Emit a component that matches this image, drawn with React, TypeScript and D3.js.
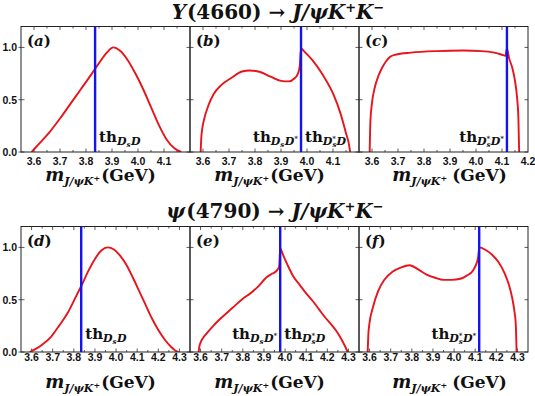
import React from "react";
import * as d3 from "d3";

// ---------- data ----------
const yTickValues = [0, 0.5, 1.0];
const topTickValues = [3.6, 3.7, 3.8, 3.9, 4.0, 4.1, 4.2];
const bottomTickValues = [3.6, 3.7, 3.8, 3.9, 4.0, 4.1, 4.2, 4.3];

const thDsD = 3.835;
const thDsDst = 3.977;
const thDsstDst = 4.119;

// (a) Y(4660), th DsD
const aMass = [3.591, 3.62, 3.66, 3.70, 3.74, 3.78, 3.82, 3.85, 3.88, 3.905, 3.93, 3.96, 3.99, 4.02, 4.05, 4.08, 4.11, 4.14, 4.166];
const aRate = [0, 0.08, 0.19, 0.32, 0.46, 0.60, 0.74, 0.85, 0.95, 1.0, 0.97, 0.88, 0.75, 0.60, 0.43, 0.26, 0.12, 0.035, 0];

// (b) Y(4660), th DsD*
const bMass = [3.591, 3.593, 3.597, 3.605, 3.62, 3.64, 3.67, 3.71, 3.75, 3.78, 3.82, 3.86, 3.90, 3.93, 3.95, 3.965, 3.972, 3.977, 3.99, 4.02, 4.06, 4.10, 4.13, 4.15, 4.16, 4.166];
const bRate = [0, 0.12, 0.22, 0.32, 0.44, 0.55, 0.64, 0.71, 0.77, 0.78, 0.765, 0.72, 0.68, 0.675, 0.70, 0.75, 0.82, 0.99, 0.96, 0.88, 0.74, 0.56, 0.36, 0.18, 0.09, 0];

// (c) Y(4660), th Ds*D*
const cMass = [3.591, 3.594, 3.60, 3.61, 3.625, 3.64, 3.655, 3.67, 3.69, 3.75, 3.85, 3.95, 4.02, 4.07, 4.10, 4.113, 4.119, 4.127, 4.14, 4.15, 4.158, 4.163, 4.166];
const cRate = [0, 0.30, 0.47, 0.61, 0.73, 0.81, 0.87, 0.91, 0.93, 0.95, 0.965, 0.97, 0.965, 0.95, 0.93, 0.92, 0.99, 0.90, 0.80, 0.68, 0.52, 0.33, 0];

// (d) psi(4790), th DsD
const dMass = [3.591, 3.62, 3.65, 3.69, 3.73, 3.77, 3.81, 3.84, 3.87, 3.90, 3.93, 3.96, 3.99, 4.02, 4.05, 4.08, 4.11, 4.14, 4.17, 4.20, 4.23, 4.26, 4.28, 4.296];
const dRate = [0, 0.03, 0.07, 0.14, 0.25, 0.37, 0.53, 0.65, 0.78, 0.89, 0.97, 1.0, 0.98, 0.92, 0.83, 0.71, 0.58, 0.45, 0.32, 0.21, 0.12, 0.05, 0.015, 0];

// (e) psi(4790), th DsD*
const eMass = [3.591, 3.594, 3.60, 3.61, 3.63, 3.66, 3.70, 3.75, 3.80, 3.835, 3.87, 3.91, 3.94, 3.962, 3.972, 3.977, 3.99, 4.01, 4.04, 4.07, 4.10, 4.13, 4.16, 4.19, 4.22, 4.25, 4.27, 4.285, 4.296];
const eRate = [0, 0.05, 0.09, 0.13, 0.18, 0.25, 0.33, 0.42, 0.51, 0.56, 0.62, 0.71, 0.75, 0.78, 0.82, 0.99, 0.93, 0.84, 0.72, 0.64, 0.56, 0.49, 0.41, 0.33, 0.26, 0.18, 0.11, 0.05, 0];

// (f) psi(4790), th Ds*D*
const fMass = [3.591, 3.594, 3.60, 3.615, 3.64, 3.67, 3.71, 3.75, 3.79, 3.83, 3.87, 3.91, 3.95, 3.99, 4.03, 4.06, 4.09, 4.105, 4.114, 4.119, 4.15, 4.18, 4.21, 4.24, 4.26, 4.275, 4.285, 4.292, 4.296];
const fRate = [0, 0.16, 0.28, 0.42, 0.58, 0.69, 0.77, 0.81, 0.83, 0.79, 0.74, 0.71, 0.69, 0.69, 0.70, 0.73, 0.78, 0.84, 0.91, 1.0, 0.975, 0.93, 0.86, 0.75, 0.64, 0.52, 0.40, 0.27, 0];

// ---------- layout ----------
const W = 535;
const H = 396;
const PANEL_LEFT = 21;
const PANEL_W = 169;
const ROW_TOP = [26.5, 226.5];
const PANEL_H = 125.5;
const X_DOMAINS = [[3.55, 4.2], [3.55, 4.35]];
const SERIF = "'DejaVu Serif', serif";
const SANS = "'Liberation Sans', Arial, sans-serif";
const RED = "#e8141c";
const BLUE = "#1414f0";

type Seg = { t: string; s: number; i?: boolean; b?: number; dx?: number };

function MathText({ x, y, anchor, segs }: { x: number; y: number; anchor?: string; segs: Seg[] }) {
  let prev = 0;
  return (
    <text x={x} y={y} textAnchor={anchor || "start"} fontFamily={SERIF} fontWeight="bold" fill="#111" style={{ whiteSpace: "pre" }}>
      {segs.map((g, k) => {
        const b = g.b || 0;
        const dy = b - prev;
        prev = b;
        return (
          <tspan key={k} fontSize={g.s} fontStyle={g.i ? "italic" : "normal"} dy={dy} dx={g.dx || 0}>
            {g.t}
          </tspan>
        );
      })}
    </text>
  );
}

function thSegs(firstStar: boolean, secondStar: boolean): Seg[] {
  const s: Seg[] = [{ t: "th", s: 15 }, { t: "D", s: 11, i: true, b: 3 }, { t: "s", s: 7, i: true, b: 5 }];
  if (firstStar) s.push({ t: "*", s: 7, b: -1, dx: -4 });
  s.push({ t: "D", s: 11, i: true, b: 3, dx: 0.5 });
  if (secondStar) s.push({ t: "*", s: 7, b: -1 });
  return s;
}

function axisSegs(gap: boolean): Seg[] {
  return [
    { t: "m", s: 18, i: true },
    { t: "J/ψK", s: 11, i: true, b: 4 },
    { t: "+", s: 8, b: 0 },
    { t: "(GeV)", s: 17, b: 0, dx: gap ? 5 : 1 },
  ];
}

function titleSegs(name: string, mass: string, nameItalic: boolean): Seg[] {
  return [
    { t: name, s: 20, i: nameItalic },
    { t: mass, s: 20, dx: 1 },
    { t: " → ", s: 20 },
    { t: "J/ψK", s: 20, i: true },
    { t: "+", s: 13, b: -7 },
    { t: "K", s: 20, i: true, b: 0 },
    { t: "−", s: 13, b: -7 },
  ];
}

type ThLabel = { segs: Seg[]; side: "left" | "right" };
type Panel = {
  key: string;
  row: number;
  col: number;
  mass: number[];
  rate: number[];
  th: number;
  ticks: number[];
  thLabels: ThLabel[];
  gap: boolean;
};

export default function App() {
  const panels: Panel[] = [
    { key: "a", row: 0, col: 0, mass: aMass, rate: aRate, th: thDsD, ticks: topTickValues.slice(0, 6), thLabels: [{ segs: thSegs(false, false), side: "right" }], gap: false },
    { key: "b", row: 0, col: 1, mass: bMass, rate: bRate, th: thDsDst, ticks: topTickValues.slice(0, 6), thLabels: [{ segs: thSegs(false, true), side: "left" }, { segs: thSegs(true, false), side: "right" }], gap: false },
    { key: "c", row: 0, col: 2, mass: cMass, rate: cRate, th: thDsstDst, ticks: topTickValues, thLabels: [{ segs: thSegs(true, true), side: "left" }], gap: true },
    { key: "d", row: 1, col: 0, mass: dMass, rate: dRate, th: thDsD, ticks: bottomTickValues, thLabels: [{ segs: thSegs(false, false), side: "right" }], gap: false },
    { key: "e", row: 1, col: 1, mass: eMass, rate: eRate, th: thDsDst, ticks: bottomTickValues, thLabels: [{ segs: thSegs(false, true), side: "left" }, { segs: thSegs(true, false), side: "right" }], gap: false },
    { key: "f", row: 1, col: 2, mass: fMass, rate: fRate, th: thDsstDst, ticks: bottomTickValues, thLabels: [{ segs: thSegs(true, true), side: "left" }], gap: true },
  ];

  const tickLabelBase = [165, 361];
  const axisTitleBase = [181, 388];
  const thBase = [142, 339];

  return (
    <svg width={W} height={H} style={{ position: "absolute", left: 0, top: 0, background: "#fff" }}>
      <rect x={0} y={0} width={W} height={H} fill="#fff" />
      <MathText x={278} y={19} anchor="middle" segs={titleSegs("Y", "(4660)", true)} />
      <MathText x={275} y={218} anchor="middle" segs={titleSegs("ψ", "(4790)", true)} />

      {panels.map((p) => {
        const x0 = PANEL_LEFT + p.col * PANEL_W;
        const y0 = ROW_TOP[p.row];
        const xs = d3.scaleLinear().domain(X_DOMAINS[p.row]).range([x0, x0 + PANEL_W]);
        const ys = d3.scaleLinear().domain([0, 1.2]).range([y0 + PANEL_H, y0]);
        const pts: [number, number][] = p.mass.map((m, k) => [m, p.rate[k]]);
        const line = d3
          .line<[number, number]>()
          .x((d) => xs(d[0]))
          .y((d) => ys(d[1]))
          .curve(d3.curveMonotoneX);
        const dom = X_DOMAINS[p.row];
        const minor = d3.range(Math.round(dom[0] * 20) + 1, Math.round(dom[1] * 20)).map((v) => v / 20);
        const clipId = "clip-" + p.key;
        const xth = xs(p.th);
        const yb = y0 + PANEL_H;
        return (
          <g key={p.key}>
            <defs>
              <clipPath id={clipId}>
                <rect x={x0} y={y0} width={PANEL_W} height={PANEL_H} />
              </clipPath>
            </defs>
            {minor.map((v, k) => {
              const major = Math.abs(v * 10 - Math.round(v * 10)) < 1e-6;
              const len = major ? 3.5 : 2;
              return (
                <g key={"t" + k} stroke="#333" strokeWidth={0.8}>
                  <line x1={xs(v)} x2={xs(v)} y1={y0} y2={y0 + len} />
                  <line x1={xs(v)} x2={xs(v)} y1={yb} y2={yb - len} />
                </g>
              );
            })}
            {yTickValues.map((v, k) => (
              <g key={"yt" + k} stroke="#333" strokeWidth={0.8}>
                <line x1={x0} x2={x0 + 3.5} y1={ys(v)} y2={ys(v)} />
                <line x1={x0 + PANEL_W} x2={x0 + PANEL_W - 3.5} y1={ys(v)} y2={ys(v)} />
                {p.col === 0 && <line x1={x0} x2={x0 - 2.5} y1={ys(v)} y2={ys(v)} />}
              </g>
            ))}
            <g clipPath={`url(#${clipId})`}>
              <path d={line(pts) || ""} fill="none" stroke={RED} strokeWidth={1.9} strokeLinejoin="round" />
              <line x1={xth} x2={xth} y1={y0} y2={yb} stroke={BLUE} strokeWidth={2.4} />
            </g>
            <rect x={x0} y={y0} width={PANEL_W} height={PANEL_H} fill="none" stroke="#222" strokeWidth={1} />
            <MathText
              x={x0 + 6}
              y={y0 + 19}
              segs={[
                { t: "(", s: 15 },
                { t: p.key, s: 15, i: true },
                { t: ")", s: 15 },
              ]}
            />
            {p.thLabels.map((l, k) => (
              <MathText
                key={"th" + k}
                x={l.side === "right" ? xth + 4 : xth - 3}
                y={thBase[p.row]}
                anchor={l.side === "right" ? "start" : "end"}
                segs={l.segs}
              />
            ))}
            {p.ticks.map((v, k) => (
              <text
                key={"xl" + k}
                x={xs(v)}
                y={tickLabelBase[p.row]}
                textAnchor="middle"
                fontFamily={SANS}
                fontWeight="bold"
                fontSize={10.5}
                fill="#111"
              >
                {v.toFixed(1)}
              </text>
            ))}
            {p.col === 0 &&
              yTickValues.map((v, k) => (
                <text
                  key={"yl" + k}
                  x={x0 - 4}
                  y={ys(v) + 4}
                  textAnchor="end"
                  fontFamily={SANS}
                  fontWeight="bold"
                  fontSize={10.5}
                  fill="#111"
                >
                  {v.toFixed(1)}
                </text>
              ))}
            <MathText x={x0 + PANEL_W / 2 + (p.gap ? 6 : -5)} y={axisTitleBase[p.row]} anchor="middle" segs={axisSegs(p.gap)} />
          </g>
        );
      })}
    </svg>
  );
}
